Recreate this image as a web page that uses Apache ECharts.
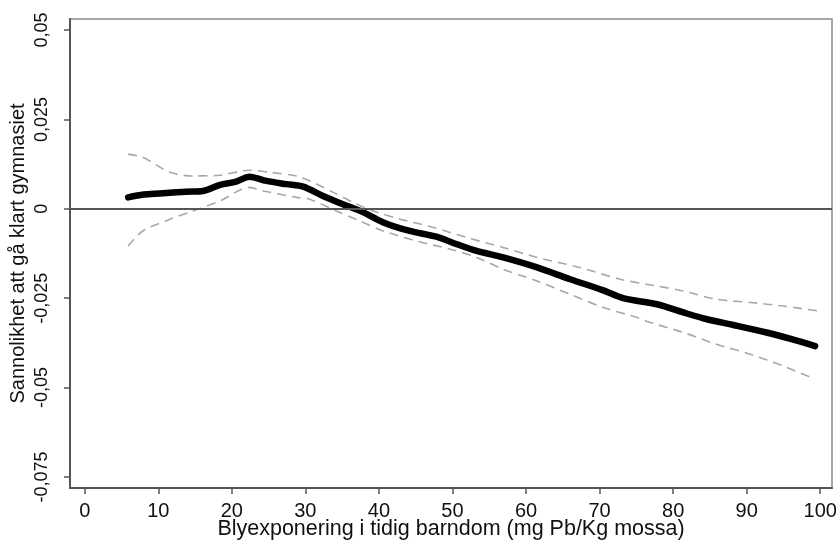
<!DOCTYPE html>
<html>
<head>
<meta charset="utf-8">
<script src="https://cdn.jsdelivr.net/npm/echarts@6/dist/echarts.min.js"></script>
<style>
  html, body { margin: 0; padding: 0; background: #fff; }
  #chart { width: 839px; height: 541px; }
</style>
</head>
<body>
<div id="chart"></div>
<script>
// effekt (heldragen linje)
const estX = [5.9, 8, 10.2, 13.8, 16.1, 18.4, 20.6, 22.4, 24.7, 27.4, 29.7, 32.4, 35.1, 37.9, 40.6, 44.2, 47.8, 50.6, 53.3, 56.9, 61.5, 66.0, 70.5, 73.2, 77.8, 81.4, 84.6, 88.2, 92.7, 96, 99.3];
const estY = [0.0032, 0.0040, 0.0043, 0.0048, 0.0050, 0.0067, 0.0076, 0.0090, 0.0078, 0.0069, 0.0062, 0.0036, 0.0013, -0.0010, -0.0038, -0.0062, -0.0078, -0.0099, -0.0118, -0.0136, -0.0164, -0.0197, -0.0228, -0.0250, -0.0267, -0.0290, -0.0309, -0.0325, -0.0346, -0.0364, -0.0384];

// övre konfidensgräns
const upX = [5.9, 7.9, 11.6, 14.7, 18.4, 22.4, 25.2, 28.8, 30.6, 33.8, 37.0, 39.2, 42.9, 47.4, 52.4, 56.9, 61.5, 67.3, 72.8, 77.8, 81.4, 85.9, 90.5, 95.0, 99.8];
const upY = [0.0153, 0.0144, 0.0102, 0.0092, 0.0094, 0.0108, 0.0102, 0.0092, 0.0078, 0.0046, 0.0013, -0.0006, -0.0029, -0.0052, -0.0083, -0.0108, -0.0136, -0.0164, -0.0197, -0.0216, -0.0230, -0.0253, -0.0262, -0.0272, -0.0286];

// nedre konfidensgräns
const loX = [5.9, 7.9, 11.6, 14.7, 18.4, 22.4, 24.3, 28.8, 30.6, 34.2, 37.4, 40.6, 45.1, 49.7, 53.3, 56.9, 61.5, 66.0, 70.5, 75.1, 76.9, 81.4, 85.9, 90.5, 95.0, 99.3];
const loY = [-0.0104, -0.0062, -0.0029, -0.0006, 0.0022, 0.0060, 0.0050, 0.0032, 0.0027, -0.0006, -0.0034, -0.0062, -0.0090, -0.0113, -0.0136, -0.0169, -0.0202, -0.0239, -0.0276, -0.0304, -0.0318, -0.0346, -0.0379, -0.0407, -0.0440, -0.0477];

const xTicks = [0, 10, 20, 30, 40, 50, 60, 70, 80, 90, 100];
const yTicks = [-0.075, -0.05, -0.025, 0, 0.025, 0.05];

function pairs (xs, ys) {
  return xs.map((x, i) => [x, ys[i]]);
}

const myChart = echarts.init(document.getElementById('chart'));
const font = 'Liberation Sans, Arial, sans-serif';

const option = {
  animation: false,
  grid: {
    left: 70,
    right: 7,
    top: 19,
    bottom: 53,
    containLabel: false,
    outerBoundsMode: 'none',
    show: true,
    borderColor: '#8a8a8a',
    borderWidth: 1.5
  },
  xAxis: {
    type: 'value',
    min: -2,
    max: 101.6,
    name: 'Blyexponering i tidig barndom (mg Pb/Kg mossa)',
    nameLocation: 'middle',
    nameGap: 30,
    nameMoveOverlap: false,
    nameTextStyle: { fontFamily: font, fontSize: 21.5, color: '#111' },
    axisLine: { show: true, onZero: false, lineStyle: { color: '#555', width: 2 } },
    axisTick: { show: true, customValues: xTicks, length: 6, lineStyle: { color: '#555', width: 1.5 } },
    axisLabel: { customValues: xTicks, margin: 13, fontFamily: font, fontSize: 20, color: '#111' },
    splitLine: { show: false }
  },
  yAxis: {
    type: 'value',
    min: -0.0781,
    max: 0.0531,
    name: 'Sannolikhet att gå klart gymnasiet',
    nameLocation: 'middle',
    nameGap: 42,
    nameMoveOverlap: false,
    nameRotate: 90,
    nameTextStyle: { fontFamily: font, fontSize: 20, color: '#111' },
    axisLine: { show: true, onZero: false, lineStyle: { color: '#555', width: 2 } },
    axisTick: { show: true, customValues: yTicks, length: 6, lineStyle: { color: '#555', width: 1.5 } },
    axisLabel: {
      customValues: yTicks,
      rotate: 90,
      margin: 19,
      fontFamily: font,
      fontSize: 18,
      color: '#111',
      formatter: v => String(Math.round(v * 1000) / 1000).replace('.', ',')
    },
    splitLine: { show: false }
  },
  series: [
    {
      name: 'upper',
      type: 'line',
      data: pairs(upX, upY),
      smooth: 0.3,
      showSymbol: false,
      lineStyle: { color: '#a8a8a8', width: 1.6, type: [9, 6] },
      z: 2,
      markLine: {
        silent: true,
        symbol: 'none',
        label: { show: false },
        lineStyle: { color: '#555', width: 2, type: 'solid' },
        data: [{ yAxis: 0 }]
      }
    },
    {
      name: 'lower',
      type: 'line',
      data: pairs(loX, loY),
      smooth: 0.3,
      showSymbol: false,
      lineStyle: { color: '#a8a8a8', width: 1.6, type: [9, 6] },
      z: 2
    },
    {
      name: 'estimate',
      type: 'line',
      data: pairs(estX, estY),
      smooth: 0.3,
      showSymbol: false,
      lineStyle: { color: '#000', width: 6.5, cap: 'round', join: 'round' },
      z: 3
    }
  ]
};
myChart.setOption(option);
window.onresize = () => {
  myChart.resize();
};
</script>
</body>
</html>
